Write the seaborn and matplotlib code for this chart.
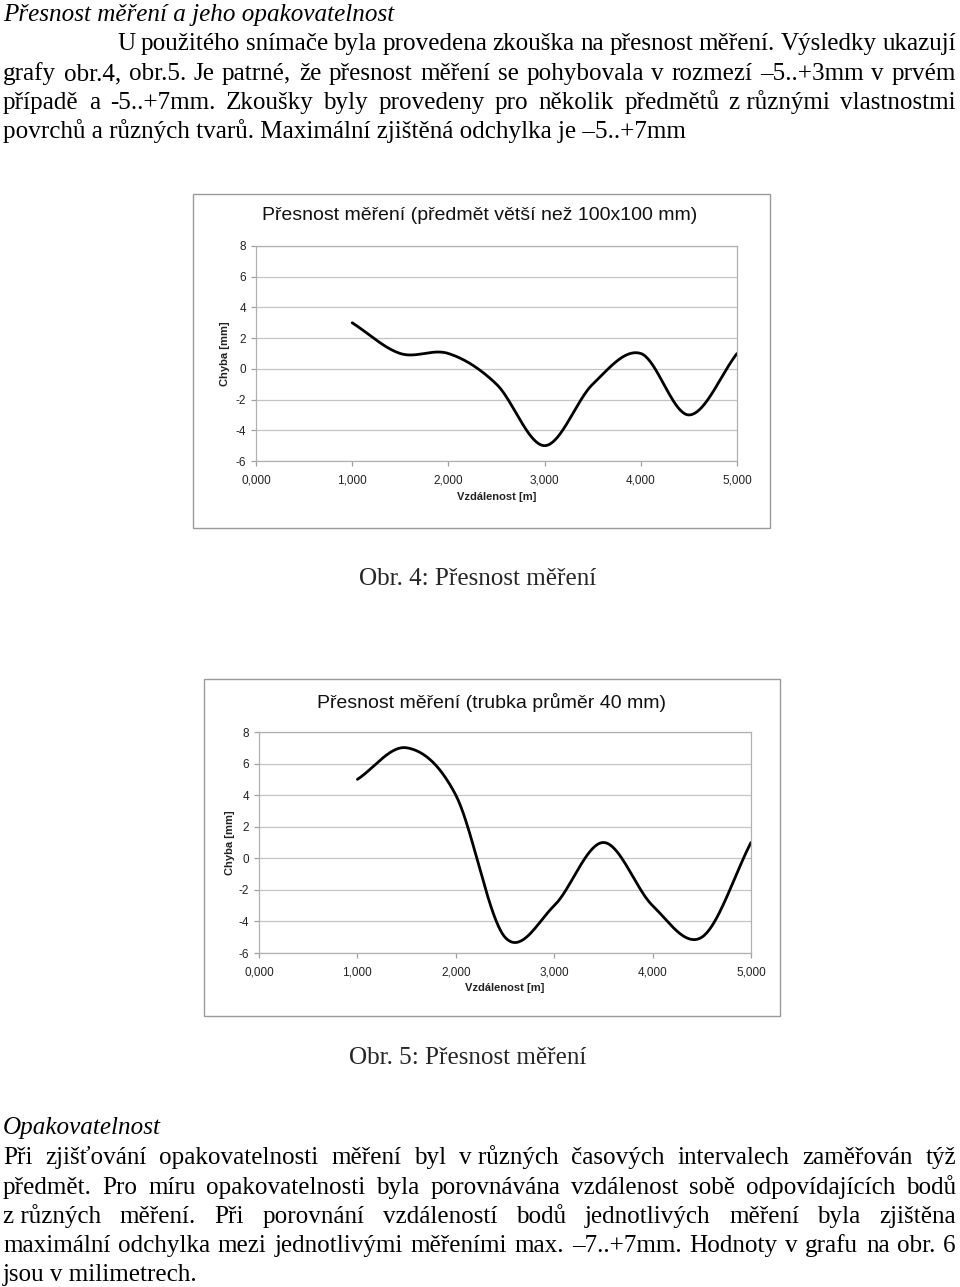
import numpy as np
import pandas as pd
import matplotlib
matplotlib.use("Agg")
import matplotlib.pyplot as plt
from matplotlib.patches import Rectangle
from matplotlib.ticker import FuncFormatter, MultipleLocator
import seaborn as sns

# ---------------- data ----------------
dist1 = [1.0, 1.5, 2.0, 2.5, 3.0, 3.5, 4.0, 4.5, 5.0]
err1 = [3, 1, 1, -1, -5, -1, 1, -3, 1]
dist2 = [1.0, 1.5, 2.0, 2.5, 3.0, 3.5, 4.0, 4.5, 5.0]
err2 = [5, 7, 4, -5, -3, 1, -3, -5, 1]
title1 = "Přesnost měření (předmět větší než 100x100 mm)"
title2 = "Přesnost měření (trubka průměr 40 mm)"
xlabel = "Vzdálenost [m]"
ylabel = "Chyba [mm]"
caption1 = "Obr. 4: Přesnost měření"
caption2 = "Obr. 5: Přesnost měření"

top_heading = "Přesnost měření a jeho opakovatelnost"
top_lines = [
    ("U použitého snímače byla provedena zkouška na přesnost měření. Výsledky ukazují", True, 117),
    ("grafy obr.4, obr.5. Je patrné, že přesnost měření se pohybovala v rozmezí –5..+3mm v prvém", True, 3),
    ("případě a -5..+7mm. Zkoušky byly provedeny pro několik předmětů z\u00a0různými vlastnostmi", True, 3),
    ("povrchů a různých tvarů. Maximální zjištěná odchylka je –5..+7mm", False, 3),
]
bottom_heading = "Opakovatelnost"
bottom_lines = [
    ("Při zjišťování opakovatelnosti měření byl v\u00a0různých časových intervalech zaměřován týž", True, 3),
    ("předmět. Pro míru opakovatelnosti byla porovnávána vzdálenost sobě odpovídajících bodů", True, 3),
    ("z\u00a0různých měření. Při porovnání vzdáleností bodů jednotlivých měření byla zjištěna", True, 3),
    ("maximální odchylka mezi jednotlivými měřeními max. –7..+7mm. Hodnoty v grafu na obr. 6", True, 3),
    ("jsou v milimetrech.", False, 3),
]


def smooth(xs, ys, n=40):
    """Excel-style smoothed line (Catmull-Rom / cardinal spline)."""
    xs = np.asarray(xs, float)
    ys = np.asarray(ys, float)
    k = len(xs)
    ox, oy = [], []
    for i in range(k - 1):
        p0 = ys[i - 1] if i > 0 else ys[i]
        p1, p2 = ys[i], ys[i + 1]
        p3 = ys[i + 2] if i + 2 < k else ys[i + 1]
        m1 = (p2 - p0) / (2 if i > 0 else 1)
        m2 = (p3 - p1) / (2 if i + 2 < k else 1)
        t = np.linspace(0, 1, n, endpoint=(i == k - 2))
        h00 = 2 * t**3 - 3 * t**2 + 1
        h10 = t**3 - 2 * t**2 + t
        h01 = -2 * t**3 + 3 * t**2
        h11 = t**3 - t**2
        oy.extend(h00 * p1 + h10 * m1 + h01 * p2 + h11 * m2)
        ox.extend(xs[i] + t * (xs[i + 1] - xs[i]))
    return pd.DataFrame({"x": ox, "y": oy})


sns.set_style("white")
plt.rcParams["font.family"] = ["Liberation Sans", "DejaVu Sans"]

W, H = 960, 1287
fig = plt.figure(figsize=(W / 100, H / 100), dpi=100)


def px_axes(l, t, r, b):
    return [l / W, 1 - b / H, (r - l) / W, (b - t) / H]


def draw_chart(frame, area, title, title_xy, xs, ys, ylab_x, xlab_y):
    fl, ft, fr, fb = frame
    fig.patches.append(Rectangle((fl / W, 1 - fb / H), (fr - fl) / W, (fb - ft) / H,
                                 transform=fig.transFigure, fill=False,
                                 edgecolor="#9a9a9a", linewidth=1.0, zorder=0))
    l, t, r, b = area
    ax = fig.add_axes(px_axes(l, t, r, b))
    df = smooth(xs, ys)
    sns.lineplot(data=df, x="x", y="y", ax=ax, color="black", linewidth=2.0,
                 sort=False, estimator=None)
    ax.set_xlim(0, 5)
    ax.set_ylim(-6, 8)
    ax.yaxis.set_major_locator(MultipleLocator(2))
    ax.xaxis.set_major_locator(MultipleLocator(1))
    ax.xaxis.set_major_formatter(FuncFormatter(lambda v, p: f"{v:.3f}".replace(".", ",")))
    ax.yaxis.set_major_formatter(FuncFormatter(lambda v, p: f"{v:.0f}"))
    ax.grid(axis="y", color="#c4c4c4", linewidth=0.9)
    ax.grid(axis="x", visible=False)
    for s in ax.spines.values():
        s.set_color("#b0b0b0")
        s.set_linewidth(0.9)
    ax.tick_params(axis="both", which="major", direction="out", length=3.5,
                   width=0.9, color="#a0a0a0", labelsize=8.5, labelcolor="#222222",
                   bottom=True, left=True)
    ax.tick_params(axis="x", pad=6)
    ax.tick_params(axis="y", pad=3.5)
    ax.set_xlabel(xlabel, fontsize=8, fontweight="bold", color="#222222")
    ax.set_ylabel(ylabel, fontsize=8, fontweight="bold", color="#222222")
    ax.xaxis.label.set_verticalalignment("center")
    ax.yaxis.label.set_verticalalignment("center")
    ax.yaxis.set_label_coords((ylab_x - l) / (r - l), 0.5)
    ax.xaxis.set_label_coords(0.5, -(xlab_y - b) / (b - t))
    fig.text(title_xy[0] / W, 1 - title_xy[1] / H, title, ha="center", va="center",
             fontsize=14, color="#111111")
    return ax


draw_chart((193, 194, 770, 528), (256, 246, 737, 461), title1, (480, 215),
           dist1, err1, 225, 497)
draw_chart((204, 679, 780, 1016), (259, 732, 751, 953), title2, (492, 703),
           dist2, err2, 230, 988)

serif = ["Liberation Serif", "DejaVu Serif"]
BODY = 18.1
fig.canvas.draw()
renderer = fig.canvas.get_renderer()


def text_line(s, y, x0, justify, x1=956, style="normal"):
    if not justify:
        fig.text(x0 / W, 1 - y / H, s, ha="left", va="baseline", fontsize=BODY,
                 family=serif, style=style, color="black")
        return
    words = s.split(" ")
    objs = [fig.text(0, 1 - y / H, w, ha="left", va="baseline", fontsize=BODY,
                     family=serif, style=style, color="black") for w in words]
    widths = [o.get_window_extent(renderer).width for o in objs]
    gap = (x1 - x0 - sum(widths)) / (len(words) - 1)
    x = x0
    for o, wd in zip(objs, widths):
        o.set_x(x / W)
        x += wd + gap


text_line(top_heading, 21, 3, False, style="italic")
for (s, j, x0), y in zip(top_lines, [50, 80, 109, 138]):
    text_line(s, y, x0, j)

fig.text(478 / W, 1 - 585 / H, caption1, ha="center", va="baseline", fontsize=BODY,
         family=serif)
fig.text(468 / W, 1 - 1064 / H, caption2, ha="center", va="baseline", fontsize=BODY,
         family=serif)

text_line(bottom_heading, 1134, 3, False, style="italic")
for (s, j, x0), y in zip(bottom_lines, [1164, 1194, 1223, 1252, 1281]):
    text_line(s, y, x0, j)

fig.savefig("out.png", dpi=100)
